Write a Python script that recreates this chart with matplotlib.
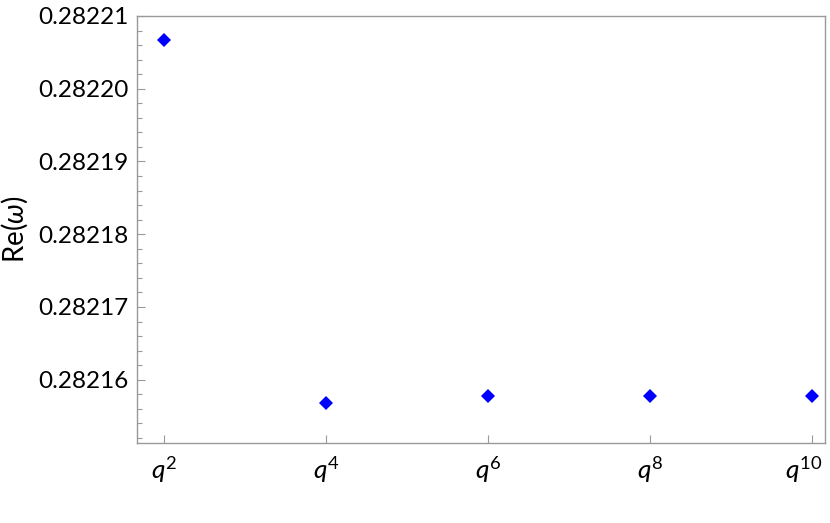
import matplotlib
matplotlib.use("Agg")
import matplotlib.pyplot as plt
import matplotlib.transforms as mtransforms
from matplotlib.ticker import MultipleLocator, FormatStrFormatter

# data
orders = [2, 4, 6, 8, 10]
x_pos = [1, 2, 3, 4, 5]
re_omega = [0.2822067, 0.2821568, 0.2821578, 0.2821578, 0.2821578]
x_labels = [f"$q^{{{n}}}$" for n in orders]

plt.rcParams["font.family"] = ["Lato", "DejaVu Sans"]
plt.rcParams["mathtext.fontset"] = "custom"
plt.rcParams["mathtext.it"] = "Lato:italic"
plt.rcParams["mathtext.rm"] = "Lato"

fig = plt.figure(figsize=(8.3, 5.23), dpi=100)
ax = fig.add_axes([137 / 830, 1 - 443 / 523, (825 - 137) / 830, (443 - 16) / 523])

ax.plot(x_pos, re_omega, linestyle="none", marker="D", markersize=7.5,
        color="#0000ff", markeredgewidth=0)

ax.set_xlim(1 - 27 / 162, 5 + 13 / 162)
ax.set_ylim(0.2821513, 0.28221)
ax.set_xticks(x_pos, x_labels)
ax.yaxis.set_major_locator(MultipleLocator(1e-5))
ax.yaxis.set_minor_locator(MultipleLocator(2e-6))
ax.yaxis.set_major_formatter(FormatStrFormatter("%.5f"))
ax.set_ylabel("Re($\\omega$)", fontsize=20, labelpad=6)

for s in ax.spines.values():
    s.set_color("#999999")
    s.set_linewidth(1.0)
ax.tick_params(axis="both", which="major", direction="in", length=6, width=0.8,
               color="#999999", labelsize=17.5, pad=6)
ax.tick_params(axis="y", which="minor", direction="in", length=3.5, width=0.8,
               color="#999999")
ax.tick_params(axis="x", labelsize=19, pad=8)

# keep the last label inside the canvas
last = ax.get_xticklabels()[-1]
last.set_transform(last.get_transform() +
                   mtransforms.ScaledTranslation(-6 / 72, 0, fig.dpi_scale_trans))

fig.savefig("out.png", dpi=100)
